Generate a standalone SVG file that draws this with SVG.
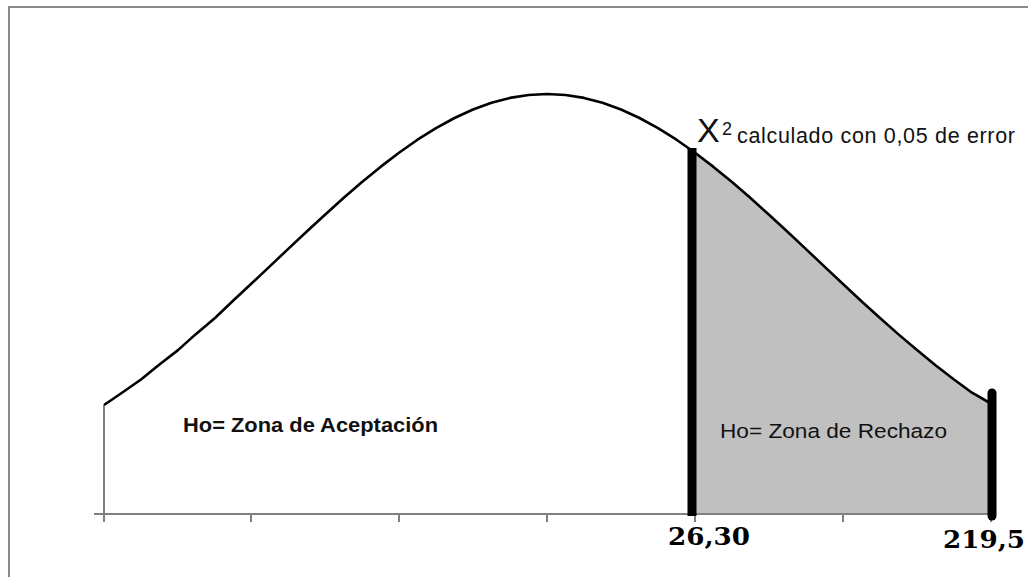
<svg xmlns="http://www.w3.org/2000/svg" width="1028" height="577" viewBox="0 0 1028 577">
<style>
.frame{fill:none;stroke:#8a8a8a;stroke-width:2}
.axis{fill:none;stroke:#808080;stroke-width:2}
.curve{fill:none;stroke:#000;stroke-width:2.6;stroke-linejoin:round}
.bar{stroke:#000;stroke-width:9}
.lbl{font-family:"Liberation Sans",Arial,sans-serif;fill:#111}
.num{font-family:"DejaVu Serif","Liberation Serif",serif;font-weight:bold;fill:#000}
</style>
<rect width="1028" height="577" fill="#fff"/>
<path class="frame" d="M9,577 V7 H1028"/>
<g id="rejection-area">
<polygon fill="#c0c0c0" points="691,514 691,149.8 695,152.7 713.5,166.9 732,182 750.5,198 769,214.7 787.5,231.8 806,249.1 824.5,266.6 843,284 861.5,301.2 880,318 898.5,334.4 917,350.1 935.5,365.2 954,379.5 972,392.7 990,403 990,514"/>
</g>
<g id="axis">
<path class="axis" d="M94,514 H990 M104,405 V522 M251,514 V522 M399,514 V522 M547,514 V522 M695,514 V522 M843,514 V522 M991,514 V522"/>
</g>
<g id="curve">
<polyline class="curve" points="104,405 122,392.7 141,379.5 158.5,365.2 178,350.1 195.5,334.4 215,318 232.5,301.2 251,284 269.5,266.6 288,249.1 306.5,231.8 325,214.7 343.5,198 362,182 380.5,166.9 399,152.7 417.5,139.7 436,128.1 454.5,118 473,109.5 491.5,102.8 510,97.9 528.5,95 547,94 565.5,95 584,97.9 602.5,102.8 621,109.5 639.5,118 658,128.1 676.5,139.7 695,152.7 713.5,166.9 732,182 750.5,198 769,214.7 787.5,231.8 806,249.1 824.5,266.6 843,284 861.5,301.2 880,318 898.5,334.4 917,350.1 935.5,365.2 954,379.5 972,392.7 990,403"/>
</g>
<g id="connectors">
<line class="bar" x1="692" y1="148" x2="692" y2="516" stroke-linecap="butt"/>
<line class="bar" x1="992" y1="393" x2="992" y2="516" stroke-linecap="round"/>
</g>
<g id="critical-label">
<text class="lbl" x="697" y="142" font-size="34">X</text>
<text class="lbl" x="722" y="135" font-size="18">2</text>
<text class="lbl" x="737" y="143" font-size="21.5" textLength="278" lengthAdjust="spacing">calculado con 0,05 de error</text>
</g>
<g id="acceptance-label">
<text class="lbl" x="183" y="432" font-size="21" font-weight="bold" textLength="255" lengthAdjust="spacingAndGlyphs">Ho= Zona de Aceptación</text>
</g>
<g id="rejection-label">
<text class="lbl" x="720" y="438" font-size="20.5" textLength="227" lengthAdjust="spacingAndGlyphs">Ho= Zona de Rechazo</text>
</g>
<g id="value-26">
<text class="num" x="668" y="545" font-size="25" textLength="82" lengthAdjust="spacingAndGlyphs">26,30</text>
</g>
<g id="value-219">
<text class="num" x="943" y="548" font-size="25" textLength="82" lengthAdjust="spacingAndGlyphs">219,5</text>
</g>
</svg>
